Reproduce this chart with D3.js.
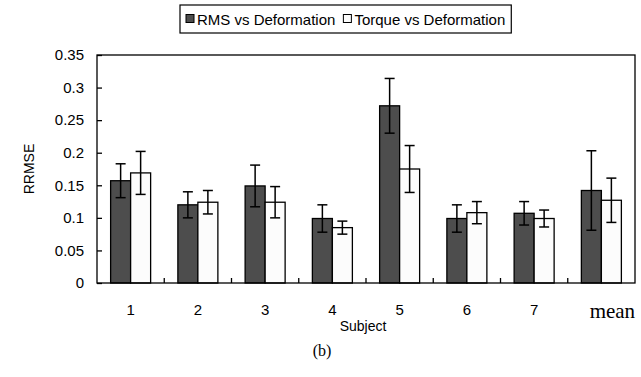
<!DOCTYPE html>
<html><head><meta charset="utf-8">
<script src="https://cdn.jsdelivr.net/npm/d3@7"></script>
<style>body{margin:0;background:#fff}svg{display:block}</style>
</head><body><svg id="c" width="641" height="377"></svg>
<script>
const categories = ["1","2","3","4","5","6","7","mean"];
const seriesNames = ["RMS vs Deformation","Torque vs Deformation"];
const rmsValues = [0.157,0.120,0.149,0.099,0.272,0.099,0.107,0.142];
const rmsErrors = [0.026,0.020,0.032,0.021,0.042,0.021,0.018,0.061];
const torqueValues = [0.169,0.124,0.124,0.085,0.175,0.108,0.099,0.127];
const torqueErrors = [0.033,0.018,0.024,0.010,0.036,0.017,0.013,0.034];
const yTicks = [0,0.05,0.1,0.15,0.2,0.25,0.3,0.35];
const colors = ["#4d4d4d","#fcfcfc"];

const svg = d3.select("#c");
const L=97,R=635,T=55,B=283;
const x = d3.scaleBand().domain(categories).range([L,R]).paddingInner(0).paddingOuter(0);
const y = d3.scaleLinear().domain([0,0.35]).range([B,T]);
const inner = d3.scaleBand().domain([0,1]).range([0,40]);
const off = (x.bandwidth()-40)/2;

const series = [
  {vals:rmsValues, errs:rmsErrors},
  {vals:torqueValues, errs:torqueErrors}
];

series.forEach((s,si)=>{
  svg.append("g").selectAll("rect").data(categories).join("rect")
    .attr("x",c=>x(c)+off+inner(si))
    .attr("y",(c,i)=>y(s.vals[i]))
    .attr("width",inner.bandwidth())
    .attr("height",(c,i)=>B-y(s.vals[i]))
    .attr("fill",colors[si]).attr("stroke","#000").attr("stroke-width",1.3);
});
series.forEach((s,si)=>{
  const g = svg.append("g").attr("stroke","#000").attr("stroke-width",1.5);
  categories.forEach((c,i)=>{
    const cx = x(c)+off+inner(si)+inner.bandwidth()/2;
    const y1 = y(s.vals[i]+s.errs[i]), y2 = y(s.vals[i]-s.errs[i]);
    g.append("line").attr("x1",cx).attr("x2",cx).attr("y1",y1).attr("y2",y2);
    g.append("line").attr("x1",cx-5).attr("x2",cx+5).attr("y1",y1).attr("y2",y1);
    g.append("line").attr("x1",cx-5).attr("x2",cx+5).attr("y1",y2).attr("y2",y2);
  });
});

svg.append("rect").attr("x",L).attr("y",T).attr("width",R-L).attr("height",B-T)
  .attr("fill","none").attr("stroke","#000").attr("stroke-width",1.3);

const yAxis = d3.axisLeft(y).tickValues(yTicks).tickSize(-5).tickPadding(13)
  .tickFormat(d=>d===0?"0":String(+d.toFixed(2)));
const gy = svg.append("g").attr("transform",`translate(${L},0)`).call(yAxis);
gy.select(".domain").remove();
gy.selectAll(".tick line").attr("stroke","#000").attr("stroke-width",1.3);
gy.selectAll("text").attr("font-family","Liberation Sans, Arial, sans-serif").attr("font-size",15).attr("fill","#000");

const xt = categories.slice(1).map(c=>x(c));
svg.append("g").selectAll("line").data(xt).join("line")
  .attr("x1",d=>d).attr("x2",d=>d).attr("y1",B).attr("y2",B-5)
  .attr("stroke","#000").attr("stroke-width",1.3);
svg.append("g").selectAll("text").data(categories).join("text")
  .attr("x",c=>x(c)+x.bandwidth()/2 + (c==="mean"?11:0))
  .attr("y",c=>c==="mean"?318:315)
  .attr("text-anchor","middle")
  .attr("font-family",c=>c==="mean"?"Liberation Serif, Times New Roman, serif":"Liberation Sans, Arial, sans-serif")
  .attr("font-size",c=>c==="mean"?21:15)
  .text(c=>c);

svg.append("text").attr("x",(L+R)/2-3).attr("y",331).attr("text-anchor","middle")
  .attr("font-family","Liberation Sans, Arial, sans-serif").attr("font-size",14).text("Subject");
svg.append("text").attr("transform","translate(34,169) rotate(-90)").attr("text-anchor","middle")
  .attr("font-family","Liberation Sans, Arial, sans-serif").attr("font-size",14).text("RRMSE");
svg.append("text").attr("x",322).attr("y",356).attr("text-anchor","middle")
  .attr("font-family","Liberation Serif, Times New Roman, serif").attr("font-size",16).text("(b)");

const lg = svg.append("g");
const lbox = lg.append("rect").attr("y",5).attr("height",28).attr("fill","#fff")
  .attr("stroke","#000").attr("stroke-width",1.2);
let lx = 186;
seriesNames.forEach((n,i)=>{
  lg.append("rect").attr("x",lx).attr("y",14.5).attr("width",8).attr("height",8)
    .attr("fill",colors[i]).attr("stroke","#000").attr("stroke-width",1);
  const t = lg.append("text").attr("x",lx+11).attr("y",24.5)
    .attr("font-family","Liberation Sans, Arial, sans-serif").attr("font-size",15).text(n);
  lx += 11 + t.node().getComputedTextLength() + 8;
});
lbox.attr("x",180).attr("width",lx-180-2);
</script></body></html>
